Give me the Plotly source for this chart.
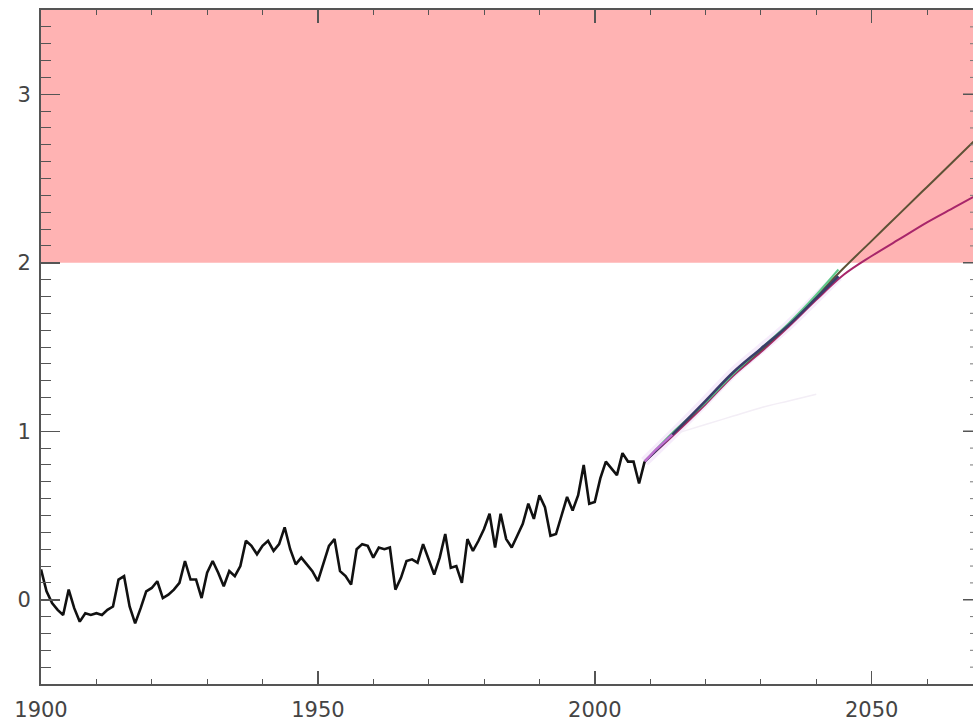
import plotly.graph_objects as go

# ---------------- data ----------------
obs_years = list(range(1900, 2010))
obs_values = [
    0.18, 0.05, -0.02, -0.06, -0.09, 0.06, -0.05, -0.13, -0.08, -0.09,
    -0.08, -0.09, -0.06, -0.04, 0.12, 0.14, -0.04, -0.14, -0.05, 0.05,
    0.07, 0.11, 0.01, 0.03, 0.06, 0.10, 0.23, 0.12, 0.12, 0.01,
    0.16, 0.23, 0.16, 0.08, 0.17, 0.14, 0.20, 0.35, 0.32, 0.27,
    0.32, 0.35, 0.29, 0.33, 0.43, 0.30, 0.21, 0.25, 0.21, 0.17,
    0.11, 0.22, 0.32, 0.36, 0.17, 0.14, 0.09, 0.30, 0.33, 0.32,
    0.25, 0.31, 0.30, 0.31, 0.06, 0.13, 0.23, 0.24, 0.22, 0.33,
    0.24, 0.15, 0.25, 0.39, 0.19, 0.20, 0.10, 0.36, 0.29, 0.35,
    0.42, 0.51, 0.31, 0.51, 0.36, 0.31, 0.38, 0.45, 0.57, 0.48,
    0.62, 0.55, 0.38, 0.39, 0.50, 0.61, 0.53, 0.62, 0.80, 0.57,
    0.58, 0.72, 0.82, 0.78, 0.74, 0.87, 0.82, 0.82, 0.69, 0.82,
]

proj_years = [2009, 2014, 2020, 2025, 2030, 2035, 2040, 2045, 2050, 2055, 2060, 2065, 2070]
proj_high = [0.82, 0.98, 1.17, 1.34, 1.48, 1.63, 1.80, 1.97, 2.13, 2.29, 2.45, 2.61, 2.77]
proj_mid = [0.82, 0.97, 1.16, 1.33, 1.47, 1.62, 1.78, 1.93, 2.04, 2.14, 2.24, 2.33, 2.42]

bundle_years = [2009, 2014, 2020, 2025, 2030, 2035, 2040, 2044]
bundle_navy = [0.82, 0.98, 1.18, 1.35, 1.49, 1.63, 1.79, 1.92]
bundle_green = [0.82, 0.99, 1.17, 1.34, 1.49, 1.64, 1.81, 1.96]

purple_years = [2009, 2011, 2014]
purple_values = [0.82, 0.89, 0.98]

faint_years = [2014, 2020, 2025, 2030, 2035, 2040]
faint_values = [0.98, 1.04, 1.09, 1.14, 1.18, 1.22]

THRESHOLD = 2.0
X_RANGE = [1900, 2068.3]
Y_RANGE = [-0.5, 3.5]
x_ticks = [1900, 1950, 2000, 2050]
y_ticks = [0, 1, 2, 3]
y_minor = [round(-0.4 + 0.1 * i, 1) for i in range(39)]

# ---------------- figure ----------------
fig = go.Figure()

# soft glow around projection bundle
fig.add_trace(go.Scatter(x=bundle_years, y=bundle_navy, mode="lines",
                         line=dict(color="rgba(215,170,235,0.22)", width=10, shape="spline"),
                         hoverinfo="skip"))
fig.add_trace(go.Scatter(x=faint_years, y=faint_values, mode="lines",
                         line=dict(color="#f3eef6", width=1.5, shape="spline"), hoverinfo="skip"))
fig.add_trace(go.Scatter(x=proj_years, y=proj_mid, mode="lines",
                         line=dict(color="#a8266a", width=2, shape="spline"), hoverinfo="skip"))
fig.add_trace(go.Scatter(x=proj_years, y=proj_high, mode="lines",
                         line=dict(color="#5e5236", width=2, shape="spline"), hoverinfo="skip"))
fig.add_trace(go.Scatter(x=bundle_years, y=bundle_green, mode="lines",
                         line=dict(color="#5fc98a", width=2, shape="spline"), hoverinfo="skip"))
fig.add_trace(go.Scatter(x=bundle_years, y=bundle_navy, mode="lines",
                         line=dict(color="#3a3d6a", width=2.6, shape="spline"), hoverinfo="skip"))
fig.add_trace(go.Scatter(x=purple_years, y=purple_values, mode="lines",
                         line=dict(color="#c070d0", width=2.4), hoverinfo="skip"))

# observations
fig.add_trace(go.Scatter(x=obs_years, y=obs_values, mode="lines",
                         line=dict(color="#111111", width=2.6), hoverinfo="skip"))

# threshold band
fig.add_shape(type="rect", xref="paper", yref="y", x0=0, x1=1,
              y0=THRESHOLD, y1=Y_RANGE[1], fillcolor="#FFB3B3",
              line=dict(width=0), layer="below")

# right-side tick marks (axis beyond crop)
plot_w = 973 - 41
for v in y_ticks:
    fig.add_shape(type="line", xref="paper", yref="y", x0=1 - 10 / plot_w, x1=1,
                  y0=v, y1=v, line=dict(color="#555555", width=1.5))
for v in y_minor:
    if v in y_ticks:
        continue
    fig.add_shape(type="line", xref="paper", yref="y", x0=1 - 3 / plot_w, x1=1,
                  y0=v, y1=v, line=dict(color="#777777", width=1))

axis_font = dict(family="DejaVu Sans", size=21, color="#444444")

fig.update_xaxes(range=X_RANGE, tickvals=x_ticks, ticktext=[str(t) for t in x_ticks],
                 ticks="inside", ticklen=13, tickwidth=1.5, tickcolor="#555555",
                 showline=True, linecolor="#555555", linewidth=2, mirror="ticks",
                 showgrid=False, zeroline=False, tickfont=axis_font,
                 ticklabelstandoff=6, automargin=False,
                 minor=dict(dtick=10, tick0=1900, ticks="inside", ticklen=5,
                            tickcolor="#555555", tickwidth=1, showgrid=False))
fig.update_yaxes(range=Y_RANGE, tickvals=y_ticks, ticktext=[str(t) for t in y_ticks],
                 ticks="inside", ticklen=19, tickwidth=1.5, tickcolor="#555555",
                 showline=True, linecolor="#555555", linewidth=2, mirror=False,
                 showgrid=False, zeroline=False, tickfont=axis_font,
                 ticklabelstandoff=4, automargin=False,
                 minor=dict(dtick=0.1, tick0=0, ticks="inside", ticklen=10,
                            tickcolor="#555555", tickwidth=1, showgrid=False))

fig.update_layout(width=973, height=722,
                  margin=dict(l=41, r=0, t=10, b=38, pad=0),
                  plot_bgcolor="white", paper_bgcolor="white",
                  showlegend=False, hovermode=False)

fig.write_html("out.html",
               config={"displayModeBar": False, "staticPlot": True},
               post_script="document.body.style.margin='0px';"
                           "document.body.style.overflow='hidden';")
